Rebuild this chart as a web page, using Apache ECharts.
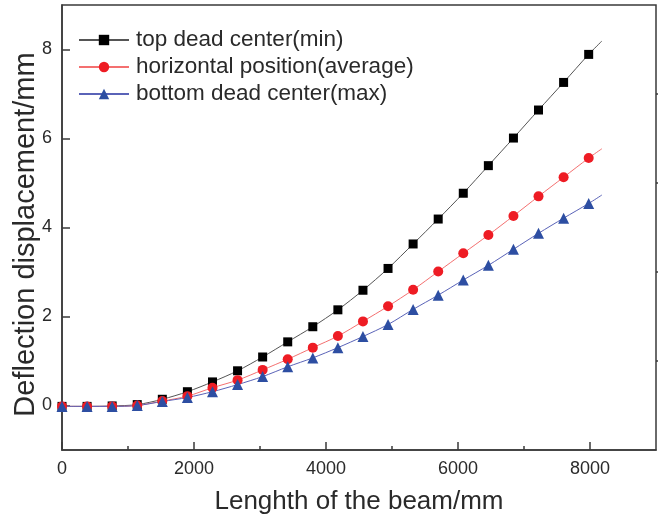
<!DOCTYPE html>
<html>
<head>
<meta charset="utf-8">
<script src="https://cdn.jsdelivr.net/npm/echarts@6/dist/echarts.min.js"></script>
<style>html,body{margin:0;padding:0;background:#fff}#c{width:658px;height:521px}</style>
</head>
<body>
<div id="c"></div>
<script>
var xValues = [0,380,760,1140,1520,1900,2280,2660,3040,3420,3800,4180,4560,4940,5320,5700,6080,6460,6840,7220,7600,7980];
var topDead = [-0.02,-0.02,-0.01,0.02,0.14,0.31,0.53,0.78,1.09,1.43,1.77,2.15,2.59,3.08,3.63,4.19,4.77,5.39,6.01,6.64,7.26,7.89];
var horizontal = [-0.02,-0.02,-0.02,0.0,0.10,0.21,0.40,0.57,0.80,1.04,1.30,1.56,1.89,2.23,2.60,3.01,3.42,3.83,4.26,4.70,5.13,5.56];
var bottomDead = [-0.02,-0.02,-0.02,0.0,0.09,0.18,0.31,0.47,0.65,0.87,1.07,1.30,1.55,1.82,2.16,2.48,2.82,3.15,3.51,3.87,4.21,4.54];
// fitted curve continues slightly past the last measured point
var xEnd = 8180;
var topEnd = 8.19, horizontalEnd = 5.77, bottomEnd = 4.73;

var seriesNames = ['top dead center(min)','horizontal position(average)','bottom dead center(max)'];
var xMajorTicks = [0,2000,4000,6000,8000];
var xMinorTicks = [1000,3000,5000,7000];
var yMajorTicks = [0,2,4,6,8];
var yMinorTicks = [1,3,5,7];

function build(vals, endVal){
  var d = xValues.map(function(x,i){ return [x, vals[i]]; });
  d.push({value:[xEnd, endVal], symbol:'none'});
  return d;
}
function plain(v){ return String(v); }

var GL = 62, GR = 2, GT = 5, GB = 71;
var W = 658, H = 521;
var axisColor = '#3a3a3a';
var textColor = '#2a2a2a';
var font = 'Liberation Sans, Arial, sans-serif';

var chart = echarts.init(document.getElementById('c'), null, {renderer:'canvas'});
chart.setOption({
  animation:false,
  backgroundColor:'#fff',
  grid:{left:GL, right:GR, top:GT, bottom:GB, containLabel:false, outerBoundsMode:'none',
        show:true, borderColor:axisColor, borderWidth:1.5, backgroundColor:'transparent'},
  legend:{
    left:78, top:28, orient:'vertical', padding:0, itemWidth:50, itemHeight:13, itemGap:3,
    textStyle:{fontSize:22.5, color:textColor, fontFamily:font, lineHeight:24, padding:[0,0,0,2]},
    data:seriesNames
  },
  xAxis:[{
    type:'value', min:0, max:9000, interval:1000,
    axisLine:{show:true, onZero:false, lineStyle:{color:axisColor, width:1.5}},
    axisTick:{show:true, inside:true, length:8, customValues:xMajorTicks, lineStyle:{color:axisColor, width:1.5}},
    axisLabel:{customValues:xMajorTicks, formatter:plain, fontSize:18, color:textColor, fontFamily:font, margin:10},
    splitLine:{show:false},
    name:'Lenghth of the beam/mm', nameLocation:'middle', nameGap:39, nameMoveOverlap:false,
    nameTextStyle:{fontSize:26, color:textColor, fontFamily:font}
  },{
    type:'value', min:0, max:9000, position:'top', offset:-(H-GT-GB),
    axisLine:{show:false},
    axisTick:{show:true, inside:false, length:4, customValues:xMinorTicks, lineStyle:{color:axisColor, width:1.5}},
    axisLabel:{show:false}, splitLine:{show:false}
  }],
  yAxis:[{
    type:'value', min:-1, max:9, interval:1,
    axisLine:{show:true, onZero:false, lineStyle:{color:axisColor, width:1.5}},
    axisTick:{show:true, inside:true, length:8, customValues:yMajorTicks, lineStyle:{color:axisColor, width:1.5}},
    axisLabel:{customValues:yMajorTicks, formatter:plain, fontSize:18, color:textColor, fontFamily:font, margin:10},
    splitLine:{show:false},
    name:'Deflection displacement/mm', nameLocation:'middle', nameGap:22, nameMoveOverlap:false,
    nameTextStyle:{fontSize:29, color:textColor, fontFamily:font, padding:[0,14,0,0]}
  },{
    type:'value', min:-1, max:9, position:'right', offset:-(W-GL-GR),
    axisLine:{show:false},
    axisTick:{show:true, inside:false, length:4, customValues:yMinorTicks, lineStyle:{color:axisColor, width:1.5}},
    axisLabel:{show:false}, splitLine:{show:false}
  }],
  series:[{
    name:seriesNames[0], type:'line', smooth:0.3, data:build(topDead, topEnd),
    symbol:'rect', symbolSize:9,
    lineStyle:{color:'#555', width:1}, itemStyle:{color:'#000'}
  },{
    name:seriesNames[1], type:'line', smooth:0.3, data:build(horizontal, horizontalEnd),
    symbol:'circle', symbolSize:10,
    lineStyle:{color:'#f47070', width:1}, itemStyle:{color:'#ee1c24'}
  },{
    name:seriesNames[2], type:'line', smooth:0.3, data:build(bottomDead, bottomEnd),
    symbol:'triangle', symbolSize:11,
    lineStyle:{color:'#5a63b8', width:1}, itemStyle:{color:'#2d4ea2'}
  }]
});
</script>
</body>
</html>
